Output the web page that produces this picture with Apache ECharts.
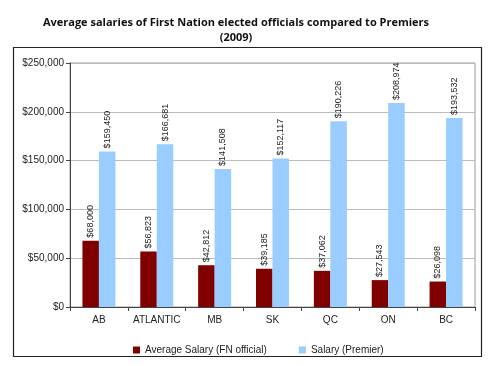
<!DOCTYPE html>
<html><head><meta charset="utf-8">
<script src="https://cdn.jsdelivr.net/npm/echarts@6/dist/echarts.min.js"></script>
<style>html,body{margin:0;padding:0;background:#fff}#c{width:495px;height:366px}</style>
</head><body><div id="c"></div>
<script>
const categories = ['AB','ATLANTIC','MB','SK','QC','ON','BC'];
const fnSalary = [68000, 56823, 42812, 39185, 37062, 27543, 26098];
const premierSalary = [159450, 166681, 141508, 152117, 190226, 208974, 193532];
const seriesNames = ['Average Salary (FN official)', 'Salary (Premier)'];
const titleLines = ['Average salaries of First Nation elected officials compared to Premiers', '(2009)'];

const fmt = v => '$' + Number(v).toLocaleString('en-US');
const chart = echarts.init(document.getElementById('c'), null, {renderer:'canvas'});
const labelCfg = {
  show: true, position: 'top', rotate: 90, align: 'left', verticalAlign: 'middle',
  distance: 3, fontFamily: 'Liberation Sans, Arial', fontSize: 9, color: '#222',
  formatter: p => fmt(p.value)
};
chart.setOption({
  animation: false,
  title: {
    text: titleLines.join('\n'), left: 231, top: 10, textAlign: 'center',
    textStyle: {fontFamily: 'Open Sans', fontWeight: 'bold', fontSize: 11, lineHeight: 15, color: '#111'}
  },
  graphic: [{type:'rect', shape:{x:13.5, y:47.5, width:468, height:309}, style:{fill:'none', stroke:'#222', lineWidth:1.2}, z:-1}],
  grid: {left: 70, right: 20, top: 63, bottom: 59, show: true, borderColor: '#999', borderWidth: 1},
  legend: {
    data: seriesNames, top: 340, left: 128, itemWidth: 7, itemHeight: 7, itemGap: 32,
    icon: 'rect', textStyle: {fontFamily: 'Liberation Sans, Arial', fontSize: 10, color: '#222'}
  },
  xAxis: {
    type: 'category', data: categories,
    axisLine: {lineStyle: {color: '#444'}},
    axisTick: {show: true, length: 4, lineStyle: {color: '#444'}},
    axisLabel: {interval: 0, fontFamily: 'Liberation Sans, Arial', fontSize: 10, color: '#222', margin: 8}
  },
  yAxis: {
    type: 'value', min: 0, max: 250000, interval: 50000,
    axisLine: {show: true, lineStyle: {color: '#444'}},
    axisTick: {show: true, length: 4, lineStyle: {color: '#444'}},
    splitLine: {lineStyle: {color: '#bbb'}},
    axisLabel: {fontFamily: 'Liberation Sans, Arial', fontSize: 10, color: '#222', margin: 6, formatter: fmt}
  },
  series: [
    {name: seriesNames[0], type: 'bar', data: fnSalary, barWidth: 16.5, barGap: '0%', itemStyle: {color: '#800000'}, label: labelCfg},
    {name: seriesNames[1], type: 'bar', data: premierSalary, barWidth: 16.5, itemStyle: {color: '#99CCFF'}, label: labelCfg}
  ]
});
</script></body></html>
